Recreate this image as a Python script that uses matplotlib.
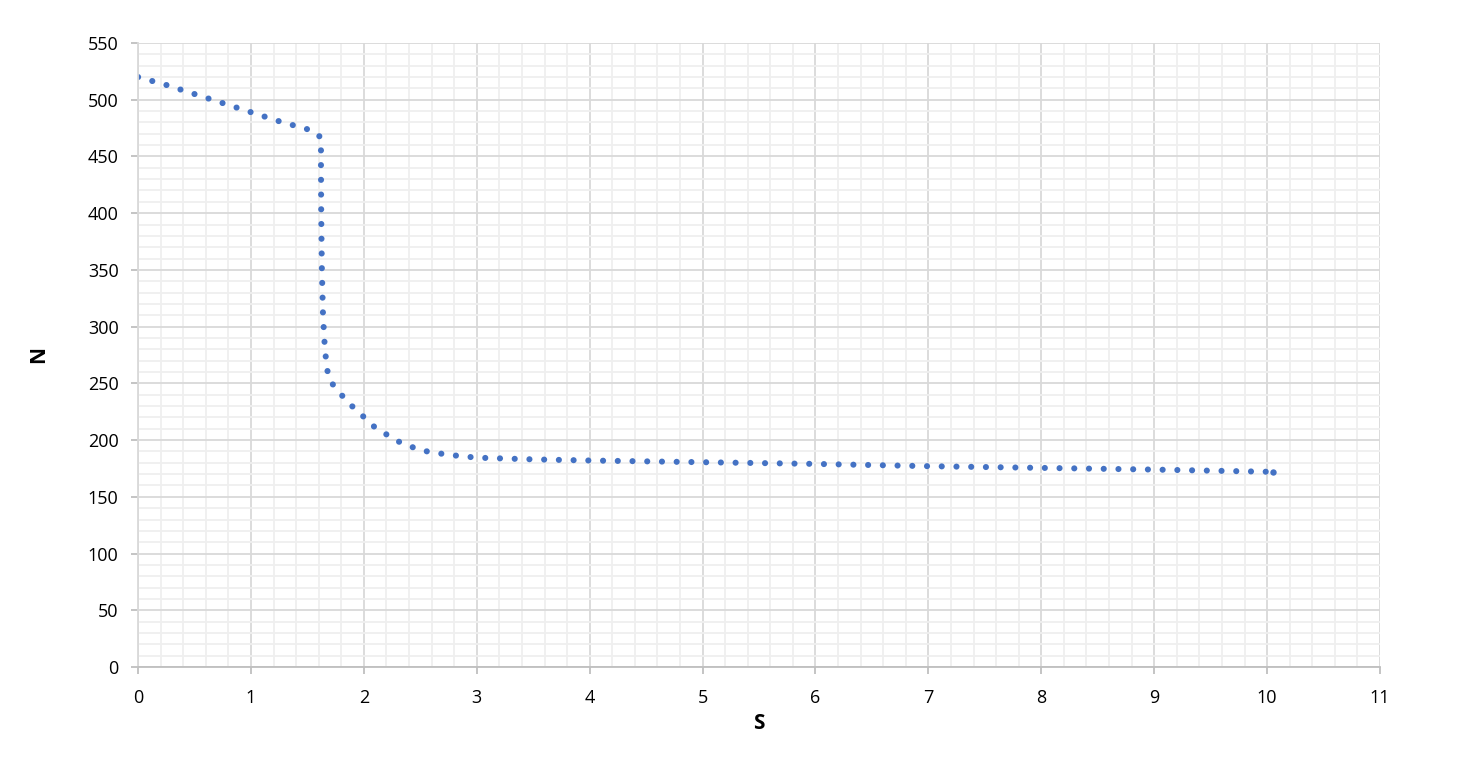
import numpy as np
import matplotlib.pyplot as plt
from matplotlib.ticker import MultipleLocator

# values
s = [0, 0.25, 0.5, 0.75, 1.0, 1.25, 1.5, 1.58, 1.62, 1.62, 1.622, 1.628, 1.638,
     1.655, 1.675, 1.70, 1.76, 1.85, 1.95, 2.1, 2.3, 2.5, 2.75, 3.0, 3.5, 4.0,
     5.0, 6.0, 7.0, 8.0, 9.0, 10.05]
n = [520, 513, 505, 497, 489, 481, 474, 471, 466, 440, 400, 350, 310,
     280, 262, 252, 245, 234, 225, 211, 199, 191, 187, 184.5, 183, 182,
     180.5, 179, 177, 175.5, 174, 172]

x_ticks = list(range(0, 12))
y_ticks = list(range(0, 551, 50))

plt.rcParams['font.family'] = ['Open Sans', 'DejaVu Sans']

fig = plt.figure(figsize=(14.58, 7.57), dpi=100)
ax = fig.add_axes([0.0947, 0.1189, 0.8518, 0.8243])

ax.plot(s, n, color='#4472c4', lw=4.4, dash_capstyle='round',
        linestyle=(0, (0.01, 2.4)),
        marker='o', markersize=4.6, markevery=[len(s) - 1],
        markeredgewidth=0)

ax.set_xlim(0, 11)
ax.set_ylim(0, 550)
ax.set_xticks(x_ticks)
ax.set_yticks(y_ticks)
ax.xaxis.set_minor_locator(MultipleLocator(0.2))
ax.yaxis.set_minor_locator(MultipleLocator(10))
ax.grid(which='major', color='#d9d9d9', lw=1.3)
ax.grid(which='minor', color='#efefef', lw=1.3)
ax.set_axisbelow(True)

for side in ['top', 'right']:
    ax.spines[side].set_visible(False)
ax.spines['bottom'].set_color('#bfbfbf')
ax.spines['left'].set_color('#d9d9d9')
ax.spines['bottom'].set_linewidth(1.3)
ax.spines['left'].set_linewidth(1.3)

ax.tick_params(which='major', length=5, width=1.3, color='#bfbfbf',
               labelsize=13, labelcolor='#000000')
ax.tick_params(axis='y', pad=9)
ax.tick_params(axis='x', pad=11)
ax.tick_params(which='minor', length=0)

ax.set_xlabel('S', fontsize=15, fontweight='bold', labelpad=4)
ax.set_ylabel('N', fontsize=15, fontweight='bold', labelpad=28)

fig.savefig('out.png', dpi=100)
